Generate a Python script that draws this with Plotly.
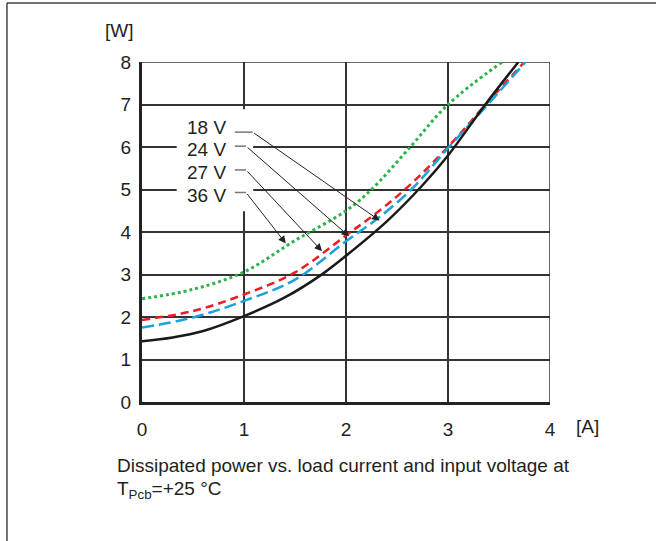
import plotly.graph_objects as go

# Datos (corriente de carga [A] -> potencia disipada [W])
i_18v = [0, 0.3, 0.6, 1.0, 1.4, 1.75, 2.0, 2.4, 2.75, 3.0, 3.35, 3.69]
p_18v = [1.43, 1.52, 1.67, 2.02, 2.46, 2.98, 3.44, 4.25, 5.1, 5.8, 6.95, 8.0]

i_24v = [0, 0.5, 1.0, 1.5, 2.0, 2.3, 2.64, 3.01, 3.39, 3.76]
p_24v = [1.75, 1.99, 2.38, 2.88, 3.78, 4.3, 5.0, 6.0, 7.0, 8.0]

i_27v = [0, 0.5, 1.0, 1.5, 2.0, 2.3, 2.6, 3.0, 3.37, 3.75]
p_27v = [1.93, 2.14, 2.53, 3.05, 3.92, 4.45, 5.05, 6.0, 7.0, 8.0]

i_36v = [0, 0.5, 1.0, 1.5, 2.0, 2.25, 2.63, 3.0, 3.53]
p_36v = [2.43, 2.65, 3.06, 3.8, 4.5, 5.0, 6.0, 7.0, 8.0]

x_ticks = [0, 1, 2, 3, 4]
y_ticks = [0, 1, 2, 3, 4, 5, 6, 7, 8]

# Etiquetas de tensión y punto donde apunta cada flecha
labels = ["18 V", "24 V", "27 V", "36 V"]
label_y = [6.47, 5.95, 5.41, 4.87]
leader_y = [6.35, 6.02, 5.46, 4.93]
leader_end = [1.085, 1.02, 1.02, 1.02]
tip_x = [2.33, 2.03, 1.765, 1.41]
tip_y = [4.27, 3.9, 3.55, 3.73]

FONT = "Liberation Sans, Arial, sans-serif"
INK = "#231f20"
FS = 19

fig = go.Figure()

fig.add_trace(go.Scatter(x=i_36v, y=p_36v, mode="lines", line_shape="spline",
                         line=dict(color="#2db34a", width=3, dash="3px,3px")))
fig.add_trace(go.Scatter(x=i_27v, y=p_27v, mode="lines", line_shape="spline",
                         line=dict(color="#ec1c24", width=2.5, dash="8px,5px")))
fig.add_trace(go.Scatter(x=i_24v, y=p_24v, mode="lines", line_shape="spline",
                         line=dict(color="#1ba1dc", width=2.5, dash="12px,5px")))
fig.add_trace(go.Scatter(x=i_18v, y=p_18v, mode="lines", line_shape="spline",
                         line=dict(color="#1a1a1a", width=2.5)))

# fondo blanco detrás de las etiquetas (corta la rejilla)
fig.add_shape(type="rect", xref="x", yref="y", x0=0.34, x1=1.09, y0=4.49, y1=6.89,
              fillcolor="white", line_width=0, layer="between")

# bordes superior y derecho del área de trazado
fig.add_shape(type="line", xref="x", yref="y", x0=0, x1=4, y0=8, y1=8,
              line=dict(color="#333", width=1.5), layer="below")
fig.add_shape(type="line", xref="x", yref="y", x0=4, x1=4, y0=0, y1=8,
              line=dict(color="#333", width=1.5), layer="below")

for lab, ty_, ly, le, tx, ty in zip(labels, label_y, leader_y, leader_end, tip_x, tip_y):
    fig.add_annotation(x=0.846, y=ty_, xref="x", yref="y", text=lab, showarrow=False,
                       xanchor="right", yanchor="middle",
                       font=dict(family=FONT, size=FS, color=INK))
    fig.add_shape(type="line", xref="x", yref="y", x0=0.91, x1=le, y0=ly, y1=ly,
                  line=dict(color="#777", width=1.5))
    fig.add_annotation(x=tx, y=ty, ax=le, ay=ly, xref="x", yref="y", axref="x", ayref="y",
                       text="", showarrow=True, arrowhead=2, arrowsize=1.5,
                       arrowwidth=1, arrowcolor="#222", standoff=0)

# marco exterior (arriba e izquierda)
fig.add_shape(type="line", xref="paper", yref="paper", x0=-0.331, x1=1.27, y0=1.1735, y1=1.1735,
              line=dict(color="#444", width=1.5))
fig.add_shape(type="line", xref="paper", yref="paper", x0=-0.331, x1=-0.331, y0=1.1735, y1=-0.42,
              line=dict(color="#444", width=1.5))

fig.add_annotation(x=-0.054, y=1.094, xref="paper", yref="paper", text="[W]", showarrow=False,
                   xanchor="center", yanchor="middle",
                   font=dict(family=FONT, size=FS, color=INK))
fig.add_annotation(x=1.0907, y=-0.0735, xref="paper", yref="paper", text="[A]", showarrow=False,
                   xanchor="center", yanchor="middle",
                   font=dict(family=FONT, size=FS, color=INK))
fig.add_annotation(x=-0.066, y=-0.188, xref="paper", yref="paper", xanchor="left", yanchor="middle",
                   text="Dissipated power vs. load current and input voltage at",
                   showarrow=False, font=dict(family=FONT, size=FS, color=INK))
fig.add_annotation(x=-0.066, y=-0.259, xref="paper", yref="paper", xanchor="left", yanchor="middle",
                   text="T<sub>Pcb</sub>=+25 °C",
                   showarrow=False, font=dict(family=FONT, size=FS, color=INK))

fig.update_xaxes(range=[0, 4], tickvals=x_ticks, showgrid=True, gridcolor="#333", gridwidth=1.5,
                 showline=True, linewidth=3, linecolor="#222", zeroline=False, ticks="",
                 ticklabelstandoff=8, tickfont=dict(family=FONT, size=FS, color=INK))
fig.update_yaxes(range=[0, 8], tickvals=y_ticks, showgrid=True, gridcolor="#333", gridwidth=1.5,
                 showline=True, linewidth=3, linecolor="#222", zeroline=False, ticks="",
                 ticklabelstandoff=4, tickfont=dict(family=FONT, size=FS, color=INK))

fig.update_layout(width=656, height=541, showlegend=False,
                  margin=dict(l=142, r=106, t=62, b=139, autoexpand=False),
                  paper_bgcolor="white", plot_bgcolor="white")

# quitar el margen por defecto del <body> para que la figura empiece en (0, 0)
fig.write_html("out.html", config={"displayModeBar": False},
               post_script="document.body.style.margin='0';")
